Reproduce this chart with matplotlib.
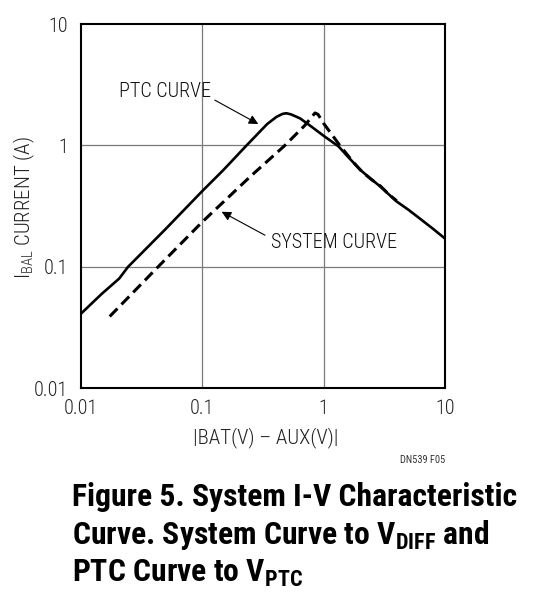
import numpy as np
import matplotlib
matplotlib.use("Agg")
import matplotlib.pyplot as plt
from matplotlib.ticker import FixedLocator, FixedFormatter, NullLocator

plt.rcParams['font.family'] = ['Roboto Condensed', 'Archivo Narrow', 'DejaVu Sans']
plt.rcParams['mathtext.fontset'] = 'custom'
plt.rcParams['mathtext.rm'] = 'Roboto Condensed:light'
plt.rcParams['mathtext.bf'] = 'Roboto Condensed:bold'

# PTC curve (solid)
ptc_x = [0.01, 0.0149, 0.0207, 0.0245, 0.05, 0.1, 0.149, 0.232, 0.343, 0.41,
         0.46, 0.494, 0.54, 0.64, 0.8, 1.0, 1.33, 1.6, 2.0, 2.4, 2.92, 3.4,
         4.0, 5.0, 6.2, 8.0, 10.0]
ptc_y = [0.041, 0.060, 0.080, 0.100, 0.205, 0.42, 0.625, 1.0, 1.5, 1.72,
         1.82, 1.84, 1.80, 1.67, 1.42, 1.2, 0.98, 0.80, 0.63, 0.54, 0.46, 0.40,
         0.345, 0.295, 0.25, 0.205, 0.171]

# system curve (dashed)
sys_x = [0.0173, 0.0433, 0.1, 0.247, 0.48, 0.7, 0.8, 0.85, 0.9, 1.0, 1.36,
         1.75, 2.1, 2.5, 2.92, 3.5, 4.0]
sys_y = [0.039, 0.1, 0.234, 0.55, 1.0, 1.46, 1.72, 1.85, 1.8, 1.52, 1.0,
         0.73, 0.60, 0.52, 0.465, 0.39, 0.35]

ticks = [0.01, 0.1, 1, 10]
tick_labels = ["0.01", "0.1", "1", "10"]

fig = plt.figure(figsize=(5.5, 6), dpi=100)
ax = fig.add_axes([0.147, 0.353, 0.662, 0.607])

ax.set_xscale("log")
ax.set_yscale("log")
ax.set_xlim(0.01, 10)
ax.set_ylim(0.01, 10)

ax.plot(ptc_x, ptc_y, color="black", linewidth=1.9, solid_joinstyle="round")
ax.plot(sys_x, sys_y, color="black", linewidth=2.2, dashes=(3.6, 1.9))

for t in [0.1, 1]:
    ax.axvline(t, color="#7a7a7a", linewidth=0.9, zorder=0)
    ax.axhline(t, color="#7a7a7a", linewidth=0.9, zorder=0)

for axis in [ax.xaxis, ax.yaxis]:
    axis.set_major_locator(FixedLocator(ticks))
    axis.set_major_formatter(FixedFormatter(tick_labels))
    axis.set_minor_locator(NullLocator())
ax.tick_params(length=0, labelsize=14.5, colors="#222222")
ax.tick_params(axis="x", pad=8)
ax.tick_params(axis="y", pad=9)
for lab in ax.get_xticklabels() + ax.get_yticklabels():
    lab.set_fontweight("light")

for s in ax.spines.values():
    s.set_linewidth(1.5)

ax.set_xlabel("|BAT(V) – AUX(V)|", fontsize=15, color="#222222", va="center",
              fontweight="light")
ax.xaxis.set_label_coords(0.507, -0.135)
ax.set_ylabel(r"I$_{\mathrm{BAL}}$ CURRENT (A)", fontsize=15, color="#222222", va="center",
              fontweight="light")
ax.yaxis.set_label_coords(-0.155, 0.495)

ax.annotate("", xy=(0.29, 1.50), xytext=(0.127, 2.36),
            arrowprops=dict(arrowstyle="-|>", color="black", lw=0.8,
                            mutation_scale=14, shrinkA=0, shrinkB=0))
ax.text(0.049, 2.8, "PTC CURVE", fontsize=14.5, ha="center", va="center", color="#111111",
        fontweight="light")

ax.annotate("", xy=(0.1445, 0.284), xytext=(0.329, 0.182),
            arrowprops=dict(arrowstyle="-|>", color="black", lw=0.8,
                            mutation_scale=14, shrinkA=0, shrinkB=0))
ax.text(1.22, 0.16, "SYSTEM CURVE", fontsize=14.5, ha="center", va="center", color="#111111",
        fontweight="light")

fig.text(445 / 550, 1 - 460 / 600, "DN539 F05", fontsize=7.5, ha="right", va="center",
         color="#333333")

cap_kw = dict(fontsize=22.8, fontweight="bold", ha="left", va="center", color="black")
fig.text(72 / 550, 1 - 497 / 600, "Figure 5. System I-V Characteristic", **cap_kw)
fig.text(72 / 550, 1 - 535 / 600, r"Curve. System Curve to V$_{\mathbf{DIFF}}$ and", **cap_kw)
fig.text(72 / 550, 1 - 573 / 600, r"PTC Curve to V$_{\mathbf{PTC}}$", **cap_kw)

fig.savefig("out.png", dpi=100)
